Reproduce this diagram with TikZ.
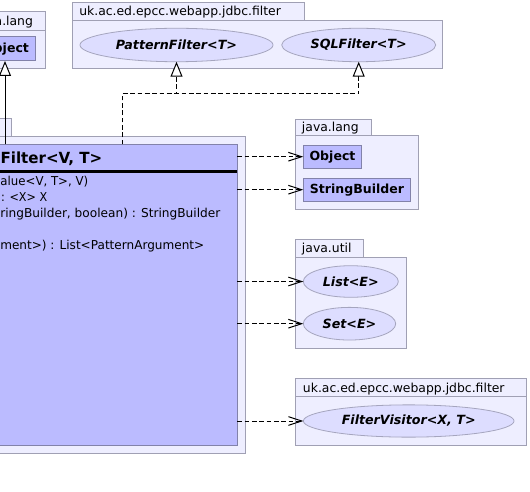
\documentclass[tikz,border=0pt]{standalone}
\usepackage{fontspec}
\usepackage{graphicx}
\setmainfont{DejaVu Sans}
\usetikzlibrary{arrows.meta,shapes.geometric}
\definecolor{pkgfill}{RGB}{238,238,255}
\definecolor{pkgline}{RGB}{160,160,180}
\definecolor{clsfill}{RGB}{187,187,255}
\definecolor{clsline}{RGB}{130,130,170}
\definecolor{ellfill}{RGB}{221,221,255}
\definecolor{ellline}{RGB}{165,165,190}
\newcommand{\fitw}[2]{\resizebox{#1}{\height}{#2}}
\tikzset{
  pkg/.style={draw=pkgline,fill=pkgfill,line width=0.75pt},
  pkglabel/.style={anchor=base west,inner sep=0pt,font=\fontsize{9.3}{11}\selectfont},
  clsbox/.style={draw=clsline,fill=clsfill,line width=0.75pt,rectangle,inner sep=0pt,outer sep=0pt,font=\fontsize{9.4}{11}\selectfont\bfseries},
  iface/.style={ellipse,draw=ellline,fill=ellfill,line width=0.6pt,inner sep=0pt,outer sep=0pt,font=\fontsize{9.5}{11}\selectfont\bfseries\itshape},
  member/.style={anchor=base west,inner sep=0pt,font=\fontsize{9.2}{11}\selectfont},
  dep/.style={line width=0.75pt,dash pattern=on 3.5pt off 2pt,-{Straight Barb[length=10pt,width=6.5pt,line width=0.75pt]}},
  real/.style={line width=0.75pt,dash pattern=on 3.5pt off 2pt,-{Triangle[open,fill=white,length=11.25pt,width=9pt,line width=0.75pt]}},
  inh/.style={line width=0.75pt,-{Triangle[open,fill=white,length=11.25pt,width=9pt,line width=0.75pt]}}
}
\begin{document}
\begin{tikzpicture}[x=0.75pt,y=-0.75pt]
\useasboundingbox (0,0) rectangle (530,491);
\clip (0,0) rectangle (530,491);
% top-left java.lang package
\path[pkg] (-30,12) rectangle (45,30.7);
\path[pkg] (-30,30.7) rectangle (45,69);
\node[pkglabel] (lblA) at (-24,26) {java.lang};
\node[clsbox,minimum width=43.5pt,minimum height=18pt] (objL) at (6,49) {Object};
% top-right filter package
\path[pkg] (72.3,2.5) rectangle (304.3,20.7);
\path[pkg] (72.3,20.7) rectangle (442.7,69);
\node[pkglabel] (lblB) at (79,16) {uk.ac.ed.epcc.webapp.jdbc.filter};
\node[iface,minimum width=144.75pt,minimum height=25.1pt] (pf) at (176.5,45) {PatternFilter<T>};
\node[iface,minimum width=115.5pt,minimum height=25.1pt] (sql) at (358.7,45) {SQLFilter<T>};
% main package
\path[pkg] (-30,119) rectangle (11.7,136.5);
\path[pkg] (-30,136.5) rectangle (245.5,453);
\node[clsbox,anchor=north east,minimum width=197pt,minimum height=225.4pt] (main) at (237.3,144.5) {};
\draw[line width=2pt] (main.west |- 0,171.7) -- (main.east |- 0,171.7);
\node[member,font=\fontsize{11.5}{13}\selectfont\bfseries] (cname) at (0.3,163.3) {\fitw{76.3pt}{Filter<V, T>}};
\node[member] (m1) at (0.2,185.7) {\fitw{65.8pt}{alue<V, T>, V)}};
\node[member] (m2) at (0.8,201.7) {\fitw{34.6pt}{: <X> X}};
\node[member] (m3) at (0,217.3) {\fitw{165pt}{ringBuilder, boolean) : StringBuilder}};
\node[member] (m5) at (0,249.3) {\fitw{153pt}{ment>) : List<PatternArgument>}};
% right java.lang package
\path[pkg] (295.7,119.3) rectangle (371.7,136);
\path[pkg] (295.7,136) rectangle (418.3,209.3);
\node[pkglabel] (lblC) at (301.7,131.7) {java.lang};
\node[clsbox,minimum width=43.8pt,minimum height=17.5pt] (objR) at (332.5,156.7) {Object};
\node[clsbox,minimum width=80.55pt,minimum height=17pt] (sb) at (357,189.7) {StringBuilder};
% java.util package
\path[pkg] (295.7,239.3) rectangle (363.3,257.3);
\path[pkg] (295.7,257.3) rectangle (406.7,348.7);
\node[pkglabel] (lblD) at (301.7,252.7) {java.util};
\node[iface,minimum width=71.25pt,minimum height=23.7pt] (list) at (350.8,281.5) {List<E>};
\node[iface,minimum width=69.3pt,minimum height=24.5pt] (set) at (349.5,323.7) {Set<E>};
% bottom filter package
\path[pkg] (295.7,378.3) rectangle (526.7,396.7);
\path[pkg] (295.7,396.7) rectangle (526.7,445);
\node[pkglabel] (lblE) at (302.7,392) {uk.ac.ed.epcc.webapp.jdbc.filter};
\node[iface,minimum width=158pt,minimum height=24.2pt] (fv) at (408.7,421) {FilterVisitor<X, T>};
% connectors
\draw[inh] (main.north -| 5,0) -- (objL.south -| 5,0);
\coordinate (j) at (122,94);
\draw[real] (main.north -| j) -- (j) -| (pf.south);
\draw[real] (main.north -| j) -- (j) -| (sql.south);
\draw[dep] (main.east |- objR.west) -- (objR.west);
\draw[dep] (main.east |- sb.west) -- (sb.west);
\draw[dep] (main.east |- list.west) -- (list.west);
\draw[dep] (main.east |- set.west) -- (set.west);
\draw[dep] (main.east |- fv.west) -- (fv.west);
\end{tikzpicture}
\end{document}
